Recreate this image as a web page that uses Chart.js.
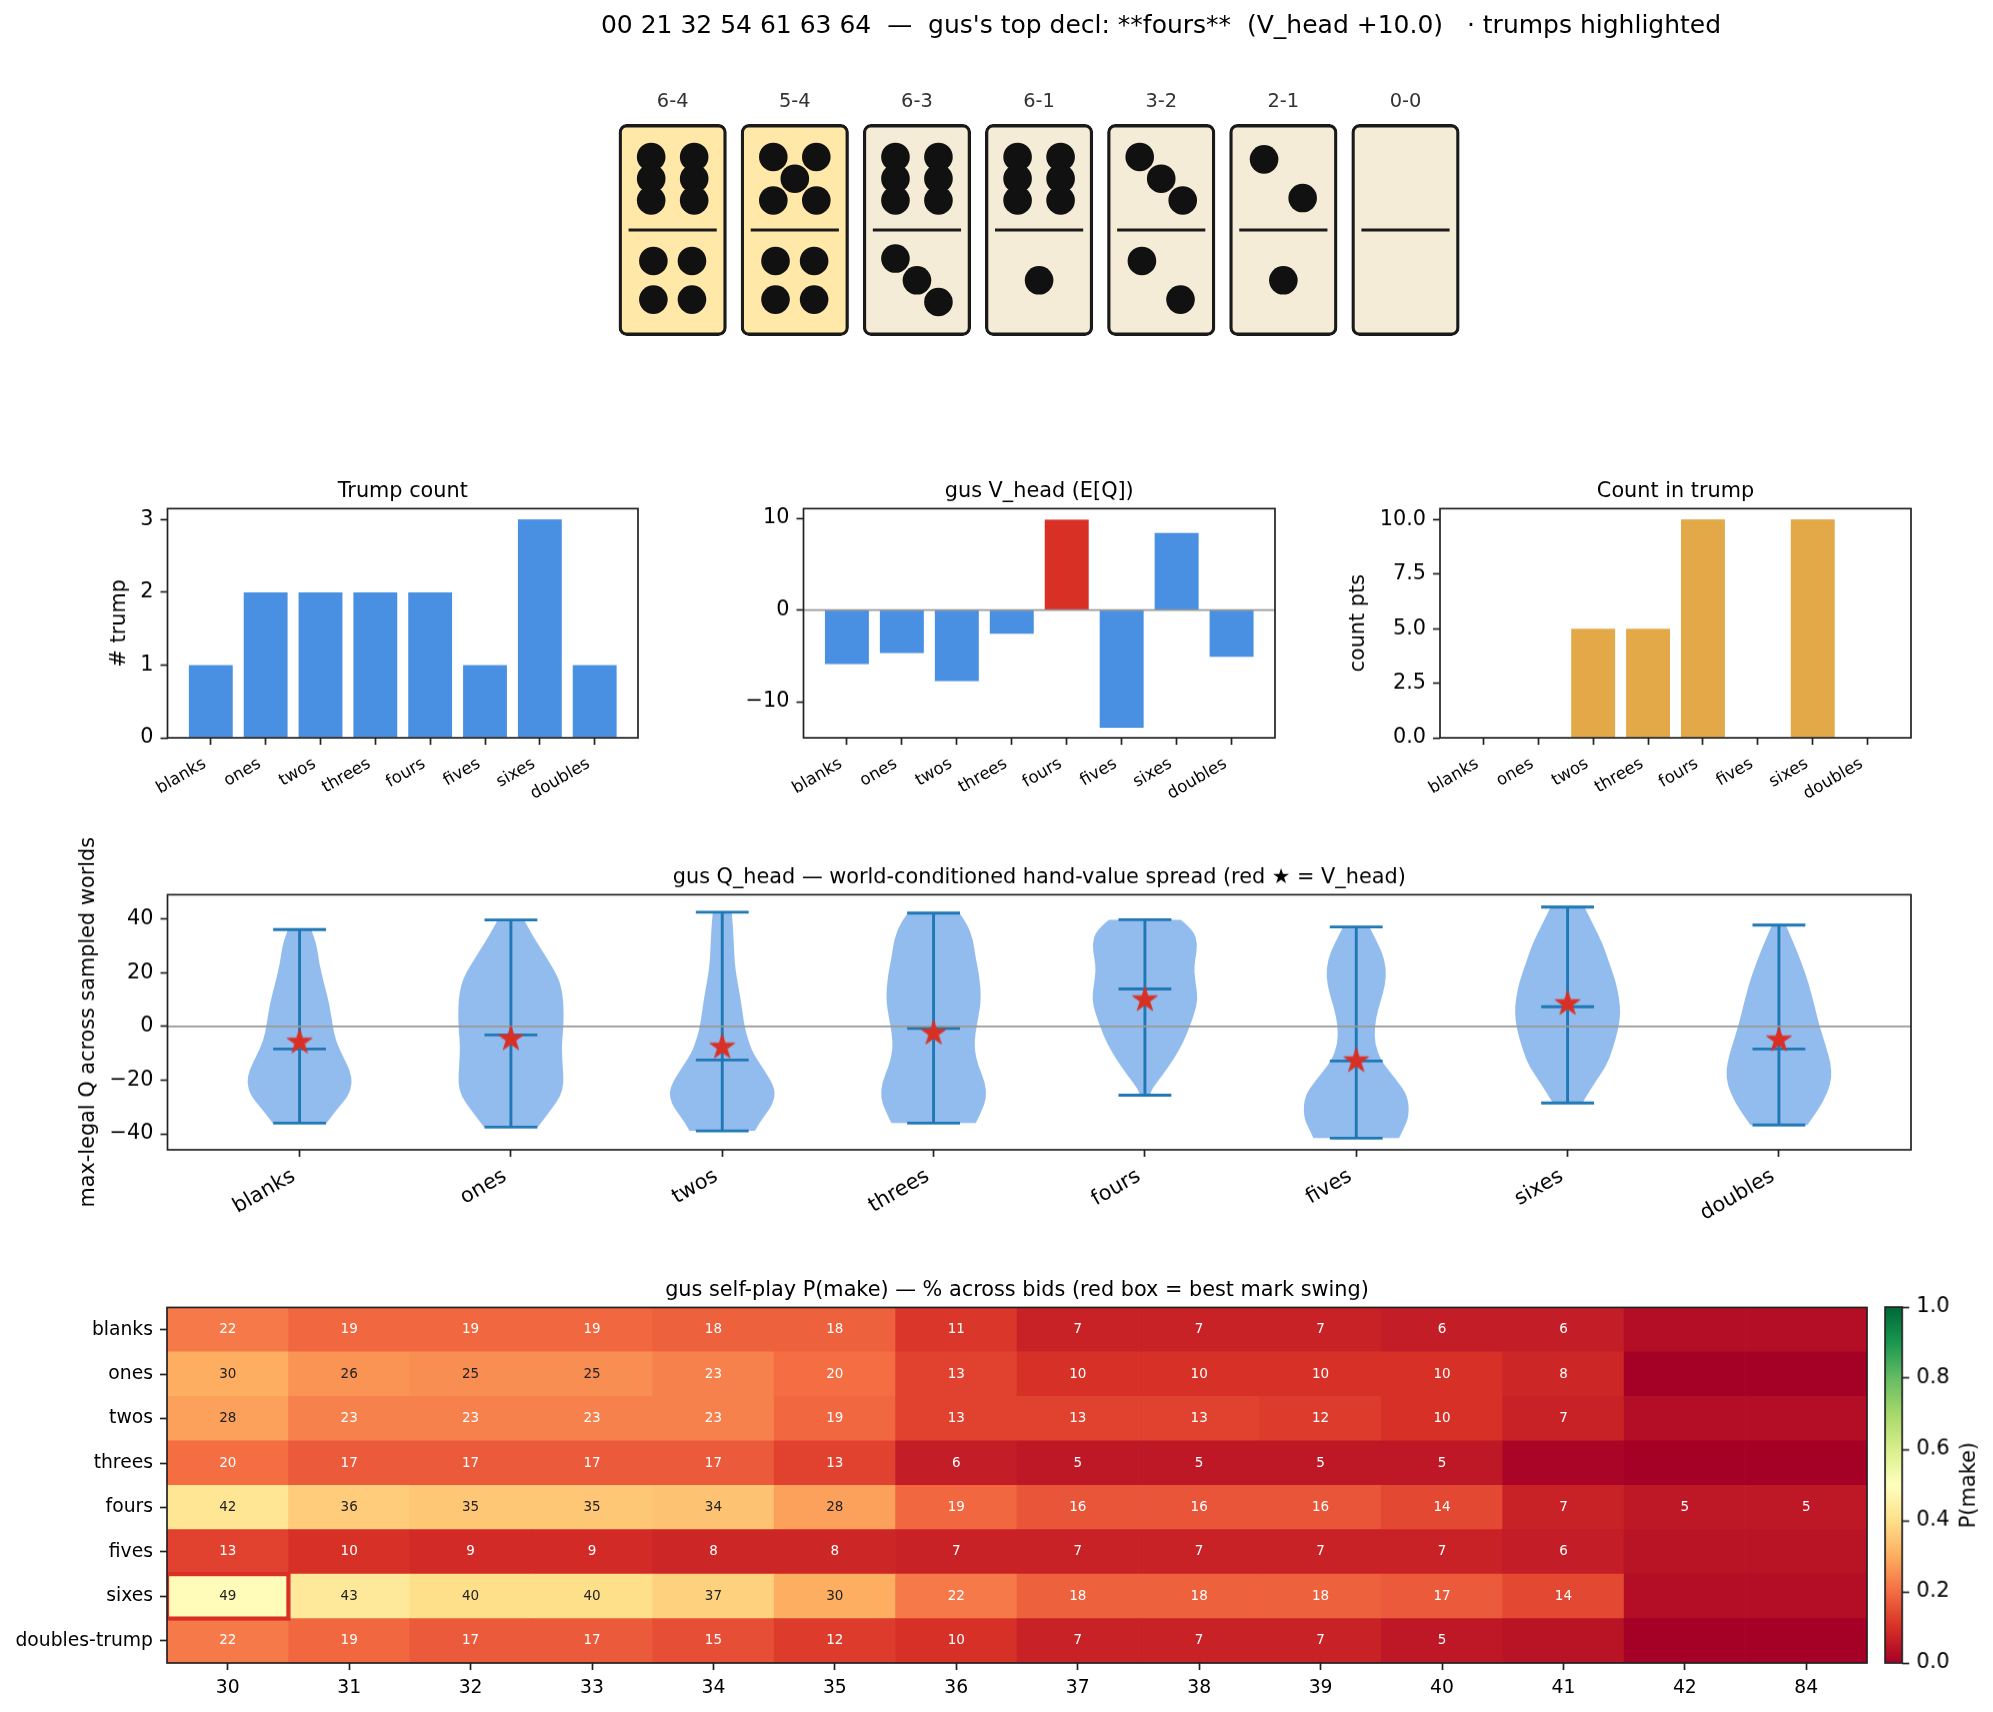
<!DOCTYPE html>
<html>
<head>
<meta charset="utf-8">
<title>gus hand summary</title>
<script src="https://cdn.jsdelivr.net/npm/chart.js@4"></script>
<style>
  html, body { margin: 0; padding: 0; background: #fff; }
  #fig { position: relative; width: 1993px; height: 1712px; overflow: hidden; }
  canvas { position: absolute; }
</style>
</head>
<body>
<div id="fig"></div>
<script>
// hand
const hand = [[6, 4], [5, 4], [6, 3], [6, 1], [3, 2], [2, 1], [0, 0]];
const handTrump = [true, true, false, false, false, false, false];
const figTitle = "00 21 32 54 61 63 64  \u2014  gus's top decl: **fours**  (V_head +10.0)   \u00b7 trumps highlighted";

// bar panels
const decls = ['blanks', 'ones', 'twos', 'threes', 'fours', 'fives', 'sixes', 'doubles'];
const trumpCount = [1, 2, 2, 2, 2, 1, 3, 1];
const vHead = [-5.9, -4.7, -7.75, -2.6, 9.85, -12.85, 8.4, -5.1];
const countPts = [0, 0, 5, 5, 10, 0, 10, 0];

// violin panel: extremes, means, then outline per decl (Q level + relative half width)
const qMax = [36, 39.6, 42.5, 42.2, 39.7, 37, 44.4, 37.7];
const qMin = [-36, -37.5, -38.9, -36, -25.6, -41.6, -28.5, -36.7];
const qMean = [-8.4, -3.2, -12.5, -0.7, 13.9, -12.9, 7.3, -8.4];
const blanksQ = [36, 31, 23.6, 16.1, 8.7, 0, -5, -11.2, -16.1, -21.1, -26, -31, -36];
const blanksW = [.22, .32, .37, .46, .56, .63, .68, .82, .95, 1, .92, .70, .51];
const onesQ = [39.6, 33.5, 26, 18.6, 12.4, 5, -1.2, -7.4, -14.9, -21.1, -26, -31, -37.5];
const onesW = [.25, .42, .66, .89, .98, 1, .99, .96, .98, 1, .94, .76, .51];
const twosQ = [42.5, 36, 24.8, 18.6, 9.9, 0, -5, -9.9, -16.1, -22.3, -26.7, -31, -36, -38.9];
const twosW = [.18, .21, .23, .27, .35, .42, .49, .58, .79, .98, 1, .89, .70, .62];
const threesQ = [42.2, 38.4, 32.2, 26, 18.6, 9.9, 3.7, -2.5, -8.7, -14.9, -21.1, -26.7, -31, -36];
const threesW = [.49, .63, .75, .79, .87, .90, .85, .79, .77, .85, .98, 1, .92, .80];
const foursQ = [39.7, 36, 30.4, 24.8, 20.5, 14.9, 9.9, 5, 0, -6.2, -12.4, -18.6, -22.9, -25.6];
const foursW = [.68, .92, 1, .95, .93, .97, 1, .94, .85, .72, .54, .32, .14, .09];
const fivesQ = [37, 31, 24.8, 18.4, 12.4, 6.2, 0, -6.2, -12.9, -19.8, -26, -33.5, -38.4, -41.6];
const fivesW = [.25, .41, .54, .57, .51, .41, .35, .35, .47, .76, .98, 1, .89, .81];
const sixesQ = [44.4, 38.4, 31, 23.6, 16.1, 9.9, 5, -1.2, -8.7, -14.9, -21.1, -28.5];
const sixesW = [.32, .47, .66, .79, .92, .98, 1, .96, .85, .73, .51, .28];
const doublesQ = [37.7, 31, 23.6, 16.1, 8.7, 0, -7.4, -13.6, -19.2, -24.8, -31, -36.7];
const doublesW = [.13, .28, .43, .56, .66, .77, .89, .98, 1, .92, .75, .54];
const violinQ = [blanksQ, onesQ, twosQ, threesQ, foursQ, fivesQ, sixesQ, doublesQ];
const violinW = [blanksW, onesW, twosW, threesW, foursW, fivesW, sixesW, doublesW];

// heatmap, P(make) in percent (cells under 5 carry no label)
const bids = ['30', '31', '32', '33', '34', '35', '36', '37', '38', '39', '40', '41', '42', '84'];
const heatRows = ['blanks', 'ones', 'twos', 'threes', 'fours', 'fives', 'sixes', 'doubles-trump'];
const pmBlanks = [22, 19, 19, 19, 18, 18, 11, 7, 7, 7, 6, 6, 3, 3];
const pmOnes = [30, 26, 25, 25, 23, 20, 13, 10, 10, 10, 10, 8, 0, 0];
const pmTwos = [28, 23, 23, 23, 23, 19, 13, 13, 13, 12, 10, 7, 3, 3];
const pmThrees = [20, 17, 17, 17, 17, 13, 6, 5, 5, 5, 5, 1, 0, 0];
const pmFours = [42, 36, 35, 35, 34, 28, 19, 16, 16, 16, 14, 7, 5, 5];
const pmFives = [13, 10, 9, 9, 8, 8, 7, 7, 7, 7, 7, 6, 4, 4];
const pmSixes = [49, 43, 40, 40, 37, 30, 22, 18, 18, 18, 17, 14, 3, 3];
const pmDoubles = [22, 19, 17, 17, 15, 12, 10, 7, 7, 7, 5, 4, 0, 0];
const heatValues = [pmBlanks, pmOnes, pmTwos, pmThrees, pmFours, pmFives, pmSixes, pmDoubles];
const bestCell = [0, 6];
const cbarTicks = [0, .2, .4, .6, .8, 1];

const rdYlGn = ['#a50026', '#d73027', '#f46d43', '#fdae61', '#fee08b', '#ffffbf', '#d9ef8b', '#a6d96a', '#66bd63', '#1a9850', '#006837'];

const BLUE = '#4a90e2', RED = '#d93025', ORANGE = '#e3a949', STEM = '#1f77b4', INK = '#222';
const minus = s => String(s).replace('-', '\u2212');

Chart.defaults.font.family = '"DejaVu Sans"';
Chart.defaults.color = '#000';
Chart.defaults.animation = false;
Chart.defaults.plugins.legend.display = false;
Chart.defaults.plugins.tooltip.enabled = false;

function cmap(v) {
    const t = Math.min(Math.max(v, 0), 1) * 10, i = Math.min(Math.floor(t), 9), f = t - i;
    const rgb = h => [1, 3, 5].map(k => parseInt(h.substr(k, 2), 16));
    const a = rgb(rdYlGn[i]), b = rgb(rdYlGn[i + 1]);
    return 'rgb(' + a.map((c, k) => Math.round(c + (b[k] - c) * f)).join(',') + ')';
}

// frame round the axes, drawn last
const framePlugin = {
    id: 'frame',
    afterDatasetsDraw(chart) {
        const a = chart.chartArea, c = chart.ctx;
        c.save();
        c.strokeStyle = INK;
        c.lineWidth = 1.7;
        c.strokeRect(a.left, a.top, a.width, a.height);
        c.restore();
    }
};

// canvas is placed so that the chart area lands on plot = [left, top, right, bottom]
// pad.l/t/b go to axes and title, lay.* is extra blank room the layout has to keep,
// axisR is the part of pad.r taken by a right hand axis
function addChart(plot, pad, config) {
    const lay = Object.assign({ l: 0, t: 0, b: 0 }, pad.lay);
    const canvas = document.createElement('canvas');
    const w = pad.l + lay.l + (plot[2] - plot[0]) + pad.r;
    const h = pad.t + lay.t + (plot[3] - plot[1]) + pad.b + lay.b;
    canvas.width = w;
    canvas.height = h;
    canvas.style.left = (plot[0] - pad.l - lay.l) + 'px';
    canvas.style.top = (plot[1] - pad.t - lay.t) + 'px';
    canvas.style.width = w + 'px';
    canvas.style.height = h + 'px';
    document.getElementById('fig').appendChild(canvas);
    config.options.responsive = false;
    config.options.devicePixelRatio = 1;
    config.options.layout = { autoPadding: false, padding: { left: lay.l, top: lay.t, right: pad.r - (pad.axisR || 0), bottom: lay.b } };
    return new Chart(canvas, config);
}

function titleOpt(text) {
    return { display: true, text: text, fullSize: false, font: { size: 20.8, weight: 'normal' }, color: '#000', padding: { top: 0, bottom: 4.5 } };
}

function axis(min, max, values, label, size, fit) {
    return {
        type: 'linear', min: min, max: max, offset: false,
        afterBuildTicks: s => { s.ticks = values.map(v => ({ value: v })); },
        afterFit: fit,
        grid: { drawOnChartArea: false, offset: false, tickLength: 7, tickWidth: 1.7, tickColor: INK },
        border: { display: false },
        ticks: { autoSkip: false, padding: 7, font: { size: size }, callback: label, color: '#000' }
    };
}
const fitH = h => s => { s.height = h; s.paddingLeft = s.paddingRight = s.paddingTop = s.paddingBottom = 0; };
const fitW = w => s => { s.width = w; s.paddingLeft = s.paddingRight = s.paddingTop = s.paddingBottom = 0; };
const declIdx = decls.map((d, i) => i);
const declLabel = v => decls[v];

// ---- dominoes ----
const pipPos = {
    0: [],
    1: [[0, 0]],
    2: [[-.158, .185], [.158, -.185]],
    3: [[-.176, .208], [0, 0], [.176, -.208]],
    4: [[-.158, .185], [.158, .185], [-.158, -.185], [.158, -.185]],
    5: [[-.176, .208], [.176, .208], [0, 0], [-.176, -.208], [.176, -.208]],
    6: [[-.176, .208], [.176, .208], [-.176, 0], [.176, 0], [-.176, -.208], [.176, -.208]]
};
const pips = [];
hand.forEach((d, i) => {
    pipPos[d[0]].forEach(p => pips.push({ x: i + p[0], y: .491 + p[1] }));
    pipPos[d[1]].forEach(p => pips.push({ x: i + p[0], y: -.481 + p[1] }));
});
const dividers = hand.map((d, i) => ({
    type: 'scatter', showLine: true, order: 1, pointRadius: 0,
    borderColor: '#1a1a1a', borderWidth: 2.9,
    data: [{ x: i - .361, y: 0 }, { x: i + .361, y: 0 }]
}));
addChart([600, 120, 1480, 340], { l: 0, t: 0, r: 513, b: 0, lay: { l: 600, t: 120, b: 20 } }, {
    type: 'bar',
    data: {
        datasets: [
            { type: 'scatter', order: 0, data: pips, pointRadius: 14.3, pointBorderWidth: 0, pointBackgroundColor: '#111' },
            ...dividers,
            {
                type: 'bar', order: 2, barThickness: 107.5, borderSkipped: false, borderRadius: 8, borderWidth: 3.3, borderColor: '#1a1a1a',
                backgroundColor: handTrump.map(t => t ? '#ffe8a8' : '#f5ecd7'),
                data: hand.map((d, i) => ({ x: i, y: [-1.01, 1.01] }))
            }
        ]
    },
    options: {
        scales: {
            x: { type: 'linear', display: false, offset: false, min: -.595, max: 6.61 },
            y: { type: 'linear', display: false, min: -1.0526, max: 1.0526 }
        }
    },
    plugins: [{
        id: 'dominoText',
        afterDraw(chart) {
            const c = chart.ctx, x = chart.scales.x, y = chart.scales.y;
            c.save();
            c.textAlign = 'center';
            c.textBaseline = 'middle';
            c.font = '19.4px "DejaVu Sans"';
            c.fillStyle = '#333';
            hand.forEach((d, i) => c.fillText(d[0] + '-' + d[1], x.getPixelForValue(i), y.getPixelForValue(1.226)));
            c.font = '25px "DejaVu Sans"';
            c.fillStyle = '#000';
            c.fillText(figTitle, 1161, 26);
            c.restore();
        }
    }]
});

// ---- three bar panels ----
function barPanel(plot, l, title, values, colors, yMin, yMax, yTicks, yLabel, yTitle, zeroLine) {
    const datasets = [{
        type: 'bar', order: 1, barPercentage: .8, categoryPercentage: 1, backgroundColor: colors,
        data: values.map((v, i) => ({ x: i, y: v }))
    }];
    if (zeroLine) {
        datasets.push({
            type: 'scatter', showLine: true, order: 0, pointRadius: 0, borderColor: '#999', borderWidth: 1.7,
            data: [{ x: -.79, y: 0 }, { x: 7.79, y: 0 }]
        });
    }
    const yAxis = axis(yMin, yMax, yTicks, yLabel, 20.8, fitW(l));
    if (yTitle) {
        yAxis.title = { display: true, text: yTitle, font: { size: 20.8 }, padding: 0, color: '#000' };
    }
    const xAxis = axis(-.79, 7.79, declIdx, declLabel, 16.7, fitH(70));
    xAxis.ticks.minRotation = 30;
    xAxis.ticks.maxRotation = 30;
    xAxis.ticks.labelOffset = -6;
    xAxis.ticks.padding = 9;
    addChart(plot, { l: l, t: 29.5, r: 12, b: 70 }, {
        type: 'bar',
        data: { datasets: datasets },
        options: {
            plugins: { title: titleOpt(title) },
            scales: { x: xAxis, y: yAxis }
        },
        plugins: [framePlugin]
    });
}
barPanel([167, 508.7, 638, 737.7], 60.5, 'Trump count', trumpCount, BLUE, 0, 3.15, [0, 1, 2, 3], v => v, '# trump', false);
barPanel([803.6, 508.7, 1275.5, 737.7], 60.5, 'gus V_head (E[Q])', vHead,
    vHead.map(v => v === Math.max(...vHead) ? RED : BLUE), -13.93, 11.05, [-10, 0, 10], minus, null, true);
barPanel([1439.5, 508.7, 1910.7, 737.7], 94, 'Count in trump', countPts, ORANGE, 0, 10.5, [0, 2.5, 5, 7.5, 10], v => v.toFixed(1), 'count pts', false);

// ---- violins ----
function starImage(size, r) {
    const cv = document.createElement('canvas');
    cv.width = cv.height = size;
    const c = cv.getContext('2d');
    c.fillStyle = RED;
    c.strokeStyle = RED;
    c.lineWidth = 1;
    c.beginPath();
    for (let k = 0; k < 10; k++) {
        const rad = k % 2 ? r * .382 : r, a = -Math.PI / 2 + k * Math.PI / 5;
        c.lineTo(size / 2 + rad * Math.cos(a), size / 2 + rad * Math.sin(a));
    }
    c.closePath();
    c.fill();
    c.stroke();
    return cv;
}
const violinPlugin = {
    id: 'violinBodies',
    beforeDatasetsDraw(chart) {
        const c = chart.ctx, x = chart.scales.x, y = chart.scales.y;
        const side = (i, sign) => violinQ[i].map((q, k) => [x.getPixelForValue(i + sign * violinW[i][k] * .25), y.getPixelForValue(q)]);
        const curve = pts => {
            for (let k = 1; k < pts.length - 1; k++) {
                const mx = (pts[k][0] + pts[k + 1][0]) / 2, my = (pts[k][1] + pts[k + 1][1]) / 2;
                c.quadraticCurveTo(pts[k][0], pts[k][1], k === pts.length - 2 ? pts[k + 1][0] : mx, k === pts.length - 2 ? pts[k + 1][1] : my);
            }
        };
        c.save();
        c.fillStyle = 'rgba(74,144,226,0.6)';
        violinQ.forEach((q, i) => {
            const left = side(i, -1), right = side(i, 1).reverse();
            c.beginPath();
            c.moveTo(left[0][0], left[0][1]);
            curve(left);
            c.lineTo(right[0][0], right[0][1]);
            curve(right);
            c.closePath();
            c.fill();
        });
        c.restore();
    }
};
const hline = (i, v) => ({
    showLine: true, order: 2, pointRadius: 0, borderColor: STEM, borderWidth: 2.9,
    data: [{ x: i - .125, y: v }, { x: i + .125, y: v }]
});
const violinSets = [];
decls.forEach((d, i) => {
    violinSets.push({
        showLine: true, order: 2, pointRadius: 0, borderColor: STEM, borderWidth: 2.9,
        data: [{ x: i, y: qMin[i] }, { x: i, y: qMax[i] }]
    });
    violinSets.push(hline(i, qMin[i]), hline(i, qMax[i]), hline(i, qMean[i]));
});
violinSets.push({
    showLine: true, order: 1, pointRadius: 0, borderColor: '#999', borderWidth: 1.7,
    data: [{ x: -.625, y: 0 }, { x: 7.625, y: 0 }]
});
violinSets.push({
    order: 0, pointStyle: starImage(36, 13), pointRadius: 15,
    data: vHead.map((v, i) => ({ x: i, y: v }))
});
const vxAxis = axis(-.625, 7.625, declIdx, declLabel, 20.8, fitH(90));
vxAxis.ticks.minRotation = 30;
vxAxis.ticks.maxRotation = 30;
vxAxis.ticks.labelOffset = -6;
const vyAxis = axis(-45.95, 49, [-40, -20, 0, 20, 40], minus, 20.8, fitW(91.5));
vyAxis.title = { display: true, text: 'max-legal Q across sampled worlds', font: { size: 20.8 }, padding: 0, color: '#000' };
addChart([167, 894.7, 1910.7, 1150], { l: 91.5, t: 29.5, r: 12, b: 90, lay: { t: 70 } }, {
    type: 'scatter',
    data: { datasets: violinSets },
    options: {
        plugins: { title: titleOpt('gus Q_head \u2014 world-conditioned hand-value spread (red \u2605 = V_head)') },
        scales: { x: vxAxis, y: vyAxis }
    },
    plugins: [violinPlugin, framePlugin]
});

// ---- heatmap ----
const cells = [];
heatValues.forEach((row, r) => row.forEach((v, c) => cells.push({ x: c, y: [r - .5, r + .5], v: v })));
const heatY = axis(-.5, 7.5, heatRows.map((d, i) => i), v => heatRows[v], 18.75, fitW(166));
heatY.reverse = true;
addChart([167, 1307, 1867, 1662.7], { l: 166, t: 29.5, r: 12, b: 45 }, {
    type: 'bar',
    data: {
        datasets: [{
            barPercentage: 1, categoryPercentage: 1,
            backgroundColor: ctx => cmap(ctx.raw.v / 100),
            data: cells
        }]
    },
    options: {
        plugins: { title: titleOpt('gus self-play P(make) \u2014 % across bids (red box = best mark swing)') },
        scales: {
            x: axis(-.5, 13.5, bids.map((b, i) => i), v => bids[v], 18.75, fitH(45)),
            y: heatY
        }
    },
    plugins: [{
        id: 'heatText',
        afterDatasetsDraw(chart) {
            const c = chart.ctx, x = chart.scales.x, y = chart.scales.y, a = chart.chartArea;
            c.save();
            c.textAlign = 'center';
            c.textBaseline = 'middle';
            c.font = '13.5px "DejaVu Sans"';
            cells.forEach(cell => {
                if (cell.v < 5) return;
                c.fillStyle = cell.v >= 25 ? '#222' : '#fff';
                c.fillText(String(cell.v), x.getPixelForValue(cell.x), y.getPixelForValue((cell.y[0] + cell.y[1]) / 2));
            });
            c.beginPath();
            c.rect(a.left, a.top, a.width, a.height);
            c.clip();
            c.strokeStyle = RED;
            c.lineWidth = 4.2;
            const x0 = x.getPixelForValue(bestCell[0] - .5), x1 = x.getPixelForValue(bestCell[0] + .5);
            const y0 = y.getPixelForValue(bestCell[1] - .5), y1 = y.getPixelForValue(bestCell[1] + .5);
            c.strokeRect(x0, y0, x1 - x0, y1 - y0);
            c.restore();
        }
    }, framePlugin]
});

// ---- colorbar ----
addChart([1885, 1307, 1902.5, 1662.7], { l: 0, t: 0, r: 90, axisR: 50, b: 0, lay: { l: 2, t: 15, b: 15 } }, {
    type: 'bar',
    data: {
        datasets: [{
            barPercentage: 1, categoryPercentage: 1,
            backgroundColor: ctx => {
                const area = ctx.chart.chartArea;
                if (!area) return rdYlGn[0];
                const g = ctx.chart.ctx.createLinearGradient(0, area.bottom, 0, area.top);
                rdYlGn.forEach((h, i) => g.addColorStop(i / 10, h));
                return g;
            },
            data: [{ x: 0, y: [0, 1] }]
        }]
    },
    options: {
        scales: {
            x: { type: 'linear', display: false, offset: false, min: -.5, max: .5 },
            y: Object.assign(axis(0, 1, cbarTicks, v => v.toFixed(1), 20.8, fitW(50)), { position: 'right' })
        }
    },
    plugins: [{
        id: 'cbarLabel',
        afterDraw(chart) {
            const c = chart.ctx, a = chart.chartArea;
            c.save();
            c.translate(a.right + 66.5, (a.top + a.bottom) / 2);
            c.rotate(-Math.PI / 2);
            c.textAlign = 'center';
            c.textBaseline = 'middle';
            c.font = '20.8px "DejaVu Sans"';
            c.fillStyle = '#000';
            c.fillText('P(make)', 0, 0);
            c.restore();
        }
    }, framePlugin]
});
</script>
</body>
</html>
